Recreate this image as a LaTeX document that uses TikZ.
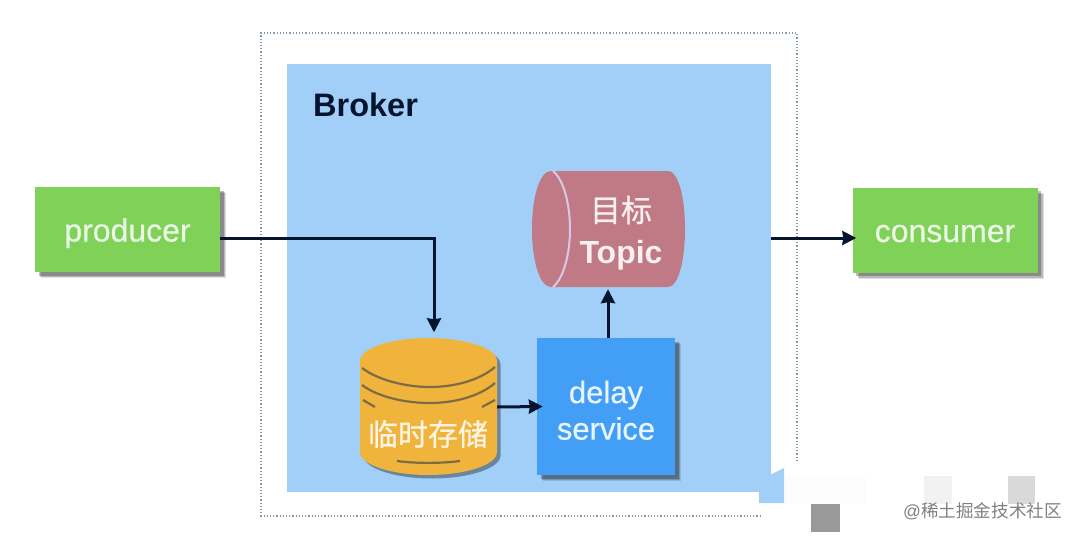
\documentclass[tikz,border=0pt]{standalone}
\usepackage{fontspec}
\setmainfont{Liberation Sans}
\newfontfamily\cjk{Noto Sans CJK SC}
\newfontfamily\cjkmed[FakeBold=0.7]{Noto Sans CJK SC}
\newfontfamily\sansmed[FakeBold=0.5]{Liberation Sans}
\usetikzlibrary{arrows.meta,shadows,calc}
\definecolor{brokerblue}{HTML}{A2CFF8}
\definecolor{boxgreen}{HTML}{7FD157}
\definecolor{servblue}{HTML}{439FF5}
\definecolor{topicred}{HTML}{BF7A85}
\definecolor{topicline}{HTML}{D9C9E6}
\definecolor{storeyellow}{HTML}{F0B43C}
\definecolor{inkdark}{HTML}{071430}
\definecolor{dotline}{HTML}{7F9CAE}
\definecolor{bandline}{HTML}{7D6C43}
\newcommand{\fsz}[1]{\fontsize{#1}{#1}\selectfont}
\tikzset{
  softshadow/.style={
    general shadow={fill=black,shadow xshift=6pt,shadow yshift=-6pt,opacity=.12},
    general shadow={fill=black,shadow xshift=5pt,shadow yshift=-5pt,opacity=.18},
    general shadow={fill=black,shadow xshift=3.5pt,shadow yshift=-3.5pt,opacity=.25}},
  actor/.style={softshadow,fill=boxgreen,text=white!85!boxgreen,minimum width=185pt,minimum height=85pt,inner sep=0pt,text height=24pt,text depth=0pt,font=\sansmed\fsz{32}},
  service/.style={softshadow,fill=servblue,text=white!88!servblue,minimum width=138pt,minimum height=137pt,inner sep=0pt,align=center,font=\sansmed\fsz{31}},
  flow/.style={draw=inkdark,line width=3pt,-{Stealth[inset=1pt,length=14pt,width=14pt]}},
  holder/.style={minimum width=#1,inner sep=0pt,align=center},
  bandstroke/.style={draw=bandline,line width=2.2pt},
  artefact/.style={inner sep=0pt,anchor=north west}
}
\begin{document}
\begin{tikzpicture}[x=1pt,y=-1pt]
\useasboundingbox (0,0) rectangle (1080,538);
% outer dotted frame (open where the picture is patched)
\coordinate (frameA) at (797,461);
\coordinate (frameB) at (797,33);
\coordinate (frameC) at (261,33);
\coordinate (frameD) at (261,516);
\coordinate (frameE) at (762,516);
\draw[dotline,line width=1.2pt,dotted] (frameA) -- (frameB) -- (frameC) -- (frameD) -- (frameE);
% broker
\fill[brokerblue] (770,475) -- (784,468) -- (784,503) -- (759,503) -- (759,492) -- cycle;
\node[fill=brokerblue,minimum width=484pt,minimum height=428pt,inner sep=0pt] (broker) at (529,278) {};
\node[inner sep=0pt,anchor=west,text=inkdark,font=\fsz{32.5}\bfseries] (brokerlabel) at (313,105) {Broker};
% actors
\node[actor] (producer) at (127.5,229.5) {producer};
\node[actor] (consumer) at (945,230) {consumer};
% topic cylinder
\fill[topicred] (551,171) -- (668,171) .. controls (678,171) and (685,196) .. (685,229) .. controls (685,262) and (678,287) .. (668,287) -- (551,287) .. controls (540,287) and (532,262) .. (532,229) .. controls (532,196) and (540,171) .. (551,171) -- cycle;
\draw[draw=topicline,line width=2pt] (553,171) .. controls (564,180) and (570,205) .. (570,229) .. controls (570,253) and (564,278) .. (553,287);
\node[holder=153pt,minimum height=116pt] (topic) at (608.5,229) {};
\node[inner sep=0pt,text=white!88!topicred] (topiccn) at (621,210) {\cjkmed\fsz{31}目标};
\node[inner sep=0pt,text=white!88!topicred,font=\fsz{32}\bfseries] (topicen) at (621,255) {Topic};
% store
\begin{scope}[shift={(3.5,3.5)}]
\fill[black,opacity=.35] (360,361) .. controls (360,348) and (392,338) .. (428.5,338) .. controls (465,338) and (497,348) .. (497,361) -- (497,452) .. controls (497,465) and (465,475) .. (428.5,475) .. controls (392,475) and (360,465) .. (360,452) -- cycle;
\end{scope}
\fill[storeyellow] (360,361) .. controls (360,348) and (392,338) .. (428.5,338) .. controls (465,338) and (497,348) .. (497,361) -- (497,452) .. controls (497,465) and (465,475) .. (428.5,475) .. controls (392,475) and (360,465) .. (360,452) -- cycle;
\draw[bandstroke] (362,368) .. controls (378,380) and (405,387) .. (430,387) .. controls (455,387) and (480,380) .. (495,367);
\draw[bandstroke] (362,385) .. controls (378,397) and (405,403) .. (430,403) .. controls (455,403) and (480,396) .. (495,383);
\draw[bandstroke] (363,400) -- (375,407);
\draw[bandstroke] (482,407) -- (495,400);
\draw[bandstroke] (397,461) .. controls (415,463.5) and (442,463.5) .. (460,461);
\node[holder=137pt,minimum height=137pt] (store) at (428.5,407) {};
\node[inner sep=0pt,text=white!85!storeyellow] (storelabel) at (428,434) {\cjkmed\fsz{30}临时存储};
% service
\node[service] (delay) at (606,406.5) {\rule{0pt}{30pt}delay\\[5.5pt]service};
% connectors
\draw[flow] ([yshift=-8.5pt]producer.east) -| ([xshift=5.5pt,yshift=6pt]store.north);
\draw[flow] (store.east) -- ([xshift=6pt]delay.west);
\draw[flow] ([xshift=2pt]delay.north) -- ([xshift=-0.5pt,yshift=-2pt]topic.south);
\coordinate (brokerout) at (broker.east |- 0,238);
\draw[flow] (brokerout) -- ([yshift=-8pt,xshift=4pt]consumer.west);
% image patches at lower right
\node[artefact,fill=black!1,minimum width=80pt,minimum height=28pt] (patchA) at (785,476) {};
\node[artefact,fill=black!5,minimum width=28pt,minimum height=28pt] (patchB) at (924,476) {};
\node[artefact,fill=black!15,minimum width=27pt,minimum height=28pt] (patchC) at (1008,476) {};
\node[artefact,fill=black!40,minimum width=29pt,minimum height=28pt] (patchD) at (811,504) {};
% watermark
\node[inner sep=0pt,anchor=west,text=black!50] (mark) at (903,511) {\fsz{17.6}@\cjk 稀土掘金技术社区};
\end{tikzpicture}
\end{document}
